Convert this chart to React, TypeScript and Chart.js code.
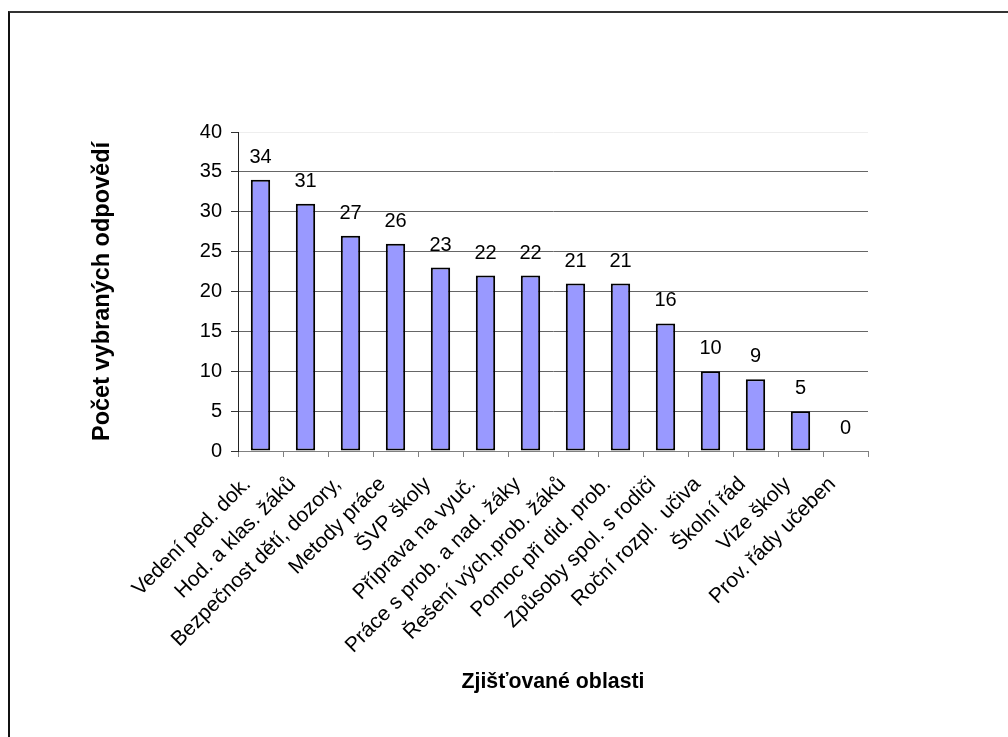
import React, { useEffect, useRef } from "react";
import { Chart, registerables } from "chart.js";

Chart.register(...registerables);

const categories: string[] = [
  "Vedení ped. dok.",
  "Hod. a klas. žáků",
  "Bezpečnost dětí, dozory,",
  "Metody práce",
  "ŠVP školy",
  "Příprava na vyuč.",
  "Práce s prob. a nad. žáky",
  "Řešení vých.prob. žáků",
  "Pomoc při did. prob.",
  "Způsoby spol. s rodiči",
  "Roční rozpl.  učiva",
  "Školní řád",
  "Vize školy",
  "Prov. řády učeben",
];

const counts: number[] = [34, 31, 27, 26, 23, 22, 22, 21, 21, 16, 10, 9, 5, 0];

const yTitle = "Počet vybraných odpovědí";
const xTitle = "Zjišťované oblasti";
const yMin = 0;
const yMax = 40;
const yStep = 5;

const FONT = "'Liberation Sans', Arial, sans-serif";

const valueLabels = {
  id: "valueLabels",
  afterDatasetsDraw(chart: any) {
    const ctx = chart.ctx;
    const meta = chart.getDatasetMeta(0);
    ctx.save();
    ctx.font = `20px ${FONT}`;
    ctx.fillStyle = "#000";
    ctx.textAlign = "center";
    ctx.textBaseline = "alphabetic";
    meta.data.forEach((bar: any, i: number) => {
      ctx.fillText(String(counts[i]), bar.x, bar.y - 17);
    });
    ctx.restore();
  },
};

export default function App() {
  const ref = useRef<HTMLCanvasElement | null>(null);

  useEffect(() => {
    if (!ref.current) return;
    const chart = new Chart(ref.current, {
      type: "bar",
      data: {
        labels: categories,
        datasets: [
          {
            data: counts,
            backgroundColor: "#9999FF",
            borderColor: "#000000",
            borderWidth: 2,
            borderSkipped: false,
            barPercentage: 0.43,
            categoryPercentage: 1,
          },
        ],
      },
      options: {
        animation: false,
        responsive: false,
        events: [],
        layout: { padding: { left: 88, top: 132, right: 140, bottom: 40 } },
        plugins: {
          legend: { display: false },
          tooltip: { enabled: false },
        },
        scales: {
          x: {
            afterFit: (s: any) => {
              s.height = 737 - 40 - 451;
            },
            grid: {
              drawOnChartArea: false,
              drawTicks: true,
              tickLength: 6,
              color: "#808080",
              offset: true,
            },
            border: { color: "#808080", width: 1 },
            ticks: {
              autoSkip: false,
              maxRotation: 45,
              minRotation: 45,
              color: "#000",
              padding: 15,
              labelOffset: -13,
              font: { family: FONT, size: 21 },
            },
            title: {
              display: true,
              text: xTitle,
              color: "#000",
              padding: { top: 0, bottom: 2 },
              font: { family: FONT, size: 21.3, weight: "bold" },
            },
          },
          y: {
            min: yMin,
            max: yMax,
            afterFit: (s: any) => {
              s.width = 238 - 88;
            },
            grid: {
              color: (c: any) =>
                c.tick && c.tick.value === yMax ? "#eeeeee" : "#666666",
              tickColor: "#333",
              drawTicks: true,
              tickLength: 7,
              lineWidth: 1,
            },
            border: { color: "#222", width: 1 },
            ticks: {
              stepSize: yStep,
              color: "#000",
              padding: 9,
              font: { family: FONT, size: 20 },
            },
            title: {
              display: true,
              text: yTitle,
              color: "#000",
              padding: { top: 0, bottom: 0 },
              font: { family: FONT, size: 23.5, weight: "bold" },
            },
          },
        },
      },
      plugins: [valueLabels],
    } as any);
    return () => chart.destroy();
  }, []);

  return (
    <div
      style={{
        position: "fixed",
        left: 0,
        top: 0,
        width: 1008,
        height: 737,
        overflow: "hidden",
        background: "#fff",
      }}
    >
      <div
        style={{
          position: "absolute",
          left: 8,
          top: 11,
          width: 1100,
          height: 800,
          borderTop: "2px solid #333",
          borderLeft: "2px solid #111",
          boxSizing: "border-box",
        }}
      />
      <canvas
        ref={ref}
        width={1008}
        height={737}
        style={{ position: "absolute", left: 0, top: 0, width: 1008, height: 737 }}
      />
    </div>
  );
}
